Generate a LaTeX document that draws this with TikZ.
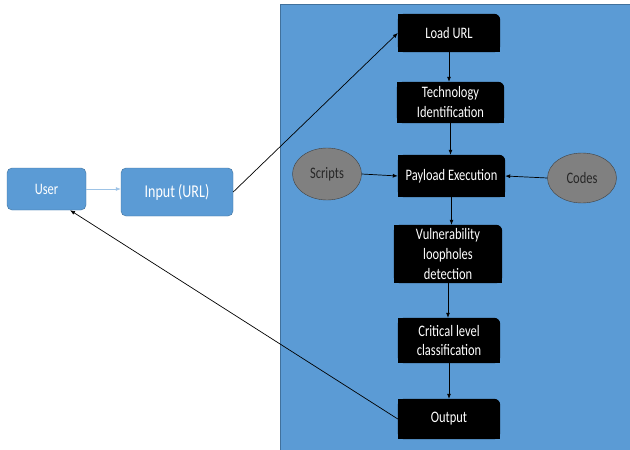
\documentclass[tikz,border=0pt]{standalone}
\usepackage{fontspec}
\setmainfont{Carlito}[FakeStretch=0.78]
\usetikzlibrary{arrows.meta,shapes.geometric,backgrounds}
\definecolor{panelblue}{RGB}{91,155,213}
\definecolor{edgeblue}{RGB}{65,113,156}
\definecolor{lightarrow}{RGB}{157,195,230}
\definecolor{ovalgray}{RGB}{128,128,128}
\tikzset{
    stepnode/.style={text=white, align=center, inner sep=0pt,
        font=\fontsize{16}{20}\selectfont},
    userbox/.style={fill=panelblue, draw=edgeblue, rounded corners=5pt,
        text=white, inner sep=0pt, font=\fontsize{16}{20}\selectfont},
    oval/.style={ellipse, fill=ovalgray, draw=black!75, inner sep=0pt,
        text=black!85, font=\fontsize{16}{20}\selectfont},
    link/.style={-{Latex[length=5pt,width=4pt]}, line width=0.7pt}
}
\begin{document}
\begin{tikzpicture}[x=1pt,y=-1pt]
    \useasboundingbox (0,0) rectangle (630,450);
    % Left side
    \node[userbox, minimum width=79, minimum height=42] (user) at (46.5,189) {User};
    \node[userbox, minimum width=112, minimum height=48,
        font=\fontsize{18}{20}\selectfont] (input) at (177,192) {Input (URL)};
    % Steps
    \node[stepnode, minimum width=102, minimum height=38] (load) at (449,33) {Load URL};
    \node[stepnode, minimum width=107, minimum height=41] (tech) at (450.5,102.5) {Technology\\Identification};
    \node[stepnode, minimum width=107, minimum height=42] (pay) at (451.5,176) {Payload Execution};
    \node[stepnode, minimum width=108, minimum height=58] (vuln) at (448,254) {Vulnerability\\loopholes\\detection};
    \node[stepnode, minimum width=102, minimum height=45] (crit) at (449,340.5) {Critical level\\classification};
    \node[stepnode, minimum width=102, minimum height=40] (out) at (449,419) {Output};
    % Inputs of the payload
    \node[oval, minimum width=69, minimum height=52] (scripts) at (327,174) {Scripts};
    \node[oval, minimum width=69, minimum height=50] (codes) at (582,178) {Codes};
    % Panel and box fills
    \begin{scope}[on background layer]
        \fill[panelblue, draw=edgeblue] (280,4) rectangle (631,451);
        \foreach \n in {load,tech,pay,vuln,crit,out} {
            \fill[rounded corners=6pt] (\n.south west) rectangle (\n.north east);
            \fill (\n.south west) rectangle ([xshift=-8pt]\n.north east);
            \fill (\n.south west) rectangle ([yshift=-8pt]\n.north east);
        }
    \end{scope}
    % Connectors
    \draw[link, draw=lightarrow] (user.east) -- (user.east -| input.west);
    \draw[link] (input.east) -- (load.west);
    \foreach \a/\b in {load/tech,tech/pay,pay/vuln,vuln/crit,crit/out}
        \draw[link] (\a.south) -- (\a.south |- \b.north);
    \draw[link] (scripts.east) -- (pay.west);
    \draw[link] (codes.west) -- (pay.east);
    \draw[link] (out.west) -- (user.-42);
\end{tikzpicture}
\end{document}
